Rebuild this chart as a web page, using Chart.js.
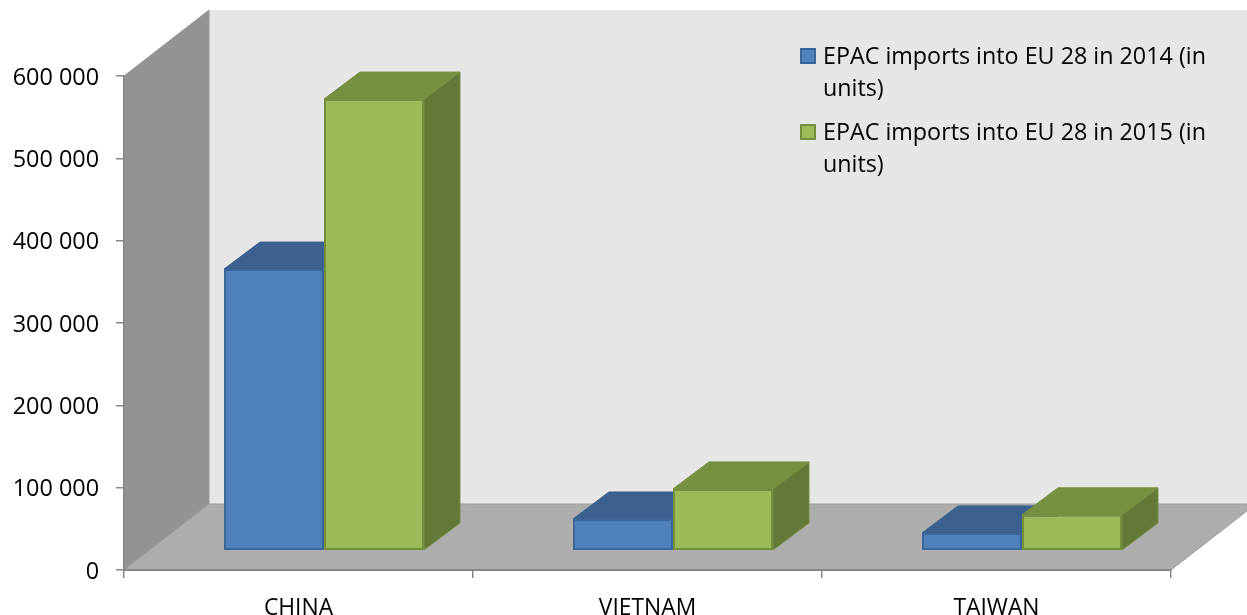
<!DOCTYPE html>
<html>
<head>
<meta charset="utf-8">
<script src="https://cdn.jsdelivr.net/npm/chart.js@4"></script>
<style>
  html, body { margin: 0; padding: 0; background: #fff; }
  #wrap { position: relative; width: 1247px; height: 615px; overflow: hidden; }
  #legend { position: absolute; left: 800px; top: 39px; width: 410px; font: 23.3px/32px "Open Sans", sans-serif; color: #000; }
  .leg-item { position: relative; padding-left: 23px; margin-bottom: 12px; }
  .leg-box { position: absolute; left: 0; top: 9px; width: 12px; height: 12px; border: 2px solid; }
</style>
</head>
<body>
<div id="wrap">
  <canvas id="chart" width="1247" height="615"></canvas>
  <div id="legend"></div>
</div>
<script>
const categories = ['CHINA', 'VIETNAM', 'TAIWAN'];
const series2014 = [365500, 62000, 45000];
const series2015 = [572000, 98500, 67000];
const seriesNames = ['EPAC imports into EU 28 in 2014 (in units)', 'EPAC imports into EU 28 in 2015 (in units)'];
const barFloor = 24300; // bars stand on the floor, in front of the axis plane

const FONT = '"Open Sans", sans-serif';
const WALL = { dx: 85, dy: -66 };
const BAR = { dx: 36, dy: -27, shift: 25.5 };
const COLORS = [
  { front: '#4F81BD', border: '#3A6699', top: '#3C618E', side: '#335478' },
  { front: '#9BBB59', border: '#74903F', top: '#768F41', side: '#647837' },
];

function poly(ctx, pts, fill, stroke) {
  ctx.beginPath();
  pts.forEach((p, i) => i ? ctx.lineTo(p[0], p[1]) : ctx.moveTo(p[0], p[1]));
  ctx.closePath();
  ctx.fillStyle = fill;
  ctx.fill();
  if (stroke) { ctx.strokeStyle = stroke; ctx.lineWidth = 1; ctx.stroke(); }
}

const box3d = {
  id: 'box3d',
  beforeDraw(chart) {
    const ctx = chart.ctx, a = chart.chartArea;
    const bx = a.left + WALL.dx, by = a.bottom + WALL.dy, ty = a.top + WALL.dy;
    ctx.save();
    poly(ctx, [[bx, ty], [a.right + WALL.dx, ty], [a.right + WALL.dx, by], [bx, by]], '#E6E6E6');
    poly(ctx, [[a.left, a.top], [bx, ty], [bx, by], [a.left, a.bottom]], '#939393', '#999999');
    poly(ctx, [[a.left, a.bottom], [bx, by], [a.right + WALL.dx, by], [a.right, a.bottom]], '#ADADAD', '#9C9C9C');
    ctx.restore();
  },
  beforeDatasetsDraw(chart) {
    const ctx = chart.ctx;
    ctx.save();
    ctx.translate(BAR.shift, 0);
    ctx.lineJoin = 'round';
    // top and side faces go under every front face
    chart.data.datasets.forEach((ds, i) => {
      chart.getDatasetMeta(i).data.forEach(bar => {
        const l = bar.x - bar.width / 2, r = bar.x + bar.width / 2;
        const c = COLORS[i];
        poly(ctx, [[r, bar.y], [r + BAR.dx, bar.y + BAR.dy], [r + BAR.dx, bar.base + BAR.dy], [r, bar.base]], c.side, c.top);
        poly(ctx, [[l, bar.y], [l + BAR.dx, bar.y + BAR.dy], [r + BAR.dx, bar.y + BAR.dy], [r, bar.y]], c.top, c.top);
      });
    });
  },
  afterDatasetsDraw(chart) {
    chart.ctx.restore();
  },
};

const fixWidth = w => scale => { scale.width = w; };
const fixHeight = h => scale => { scale.height = h; };

new Chart(document.getElementById('chart'), {
  type: 'bar',
  data: {
    labels: categories,
    datasets: [series2014, series2015].map((values, i) => ({
      label: seriesNames[i],
      data: values,
      base: barFloor,
      backgroundColor: COLORS[i].front,
      borderColor: COLORS[i].border,
      borderWidth: 2,
      borderSkipped: false,
      categoryPercentage: 0.573,
      barPercentage: 1,
      clip: false,
    })),
  },
  options: {
    responsive: false,
    animation: false,
    layout: { padding: { top: 76, right: 76, left: 0, bottom: 0 } },
    plugins: { legend: { display: false }, tooltip: { enabled: false } },
    scales: {
      x: {
        afterFit: fixHeight(45),
        grid: { drawOnChartArea: false, drawTicks: true, tickLength: 8, color: '#868686', lineWidth: 1.5 },
        border: { color: '#868686', width: 2 },
        ticks: { color: '#000', padding: 17, font: { family: FONT, size: 22.8 }, maxRotation: 0 },
      },
      y: {
        min: 0,
        max: 600000,
        afterFit: fixWidth(124),
        grid: { drawOnChartArea: false, drawTicks: true, tickLength: 8, color: '#868686', lineWidth: 1.5 },
        border: { color: '#868686', width: 1.5 },
        ticks: {
          stepSize: 100000,
          color: '#000',
          padding: 17,
          labelOffset: 2,
          font: { family: FONT, size: 23.4 },
          callback: v => String(v).replace(/\B(?=(\d{3})+$)/g, ' '),
        },
      },
    },
  },
  plugins: [box3d],
});

document.getElementById('legend').innerHTML = seriesNames.map((name, i) =>
  `<div class="leg-item"><span class="leg-box" style="background:${COLORS[i].front};border-color:${COLORS[i].border}"></span>${name}</div>`
).join('');
</script>
</body>
</html>
